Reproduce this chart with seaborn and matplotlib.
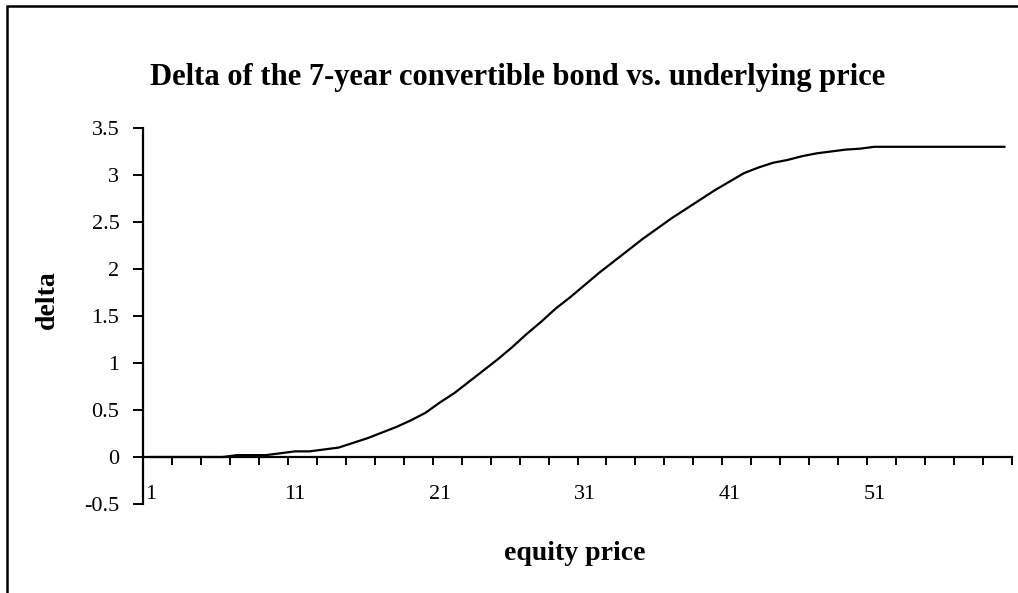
import matplotlib
matplotlib.use("Agg")
import matplotlib.pyplot as plt
import seaborn as sns
import pandas as pd
import numpy as np
from matplotlib.patches import Rectangle

# equity price categories 1..60 and the delta
price = list(range(1, 61))
delta = [0, 0, 0, 0, 0, 0, 0.02, 0.02, 0.02, 0.04,
         0.06, 0.06, 0.08, 0.10, 0.15, 0.20, 0.26, 0.32, 0.39, 0.47,
         0.58, 0.68, 0.80, 0.92, 1.04, 1.17, 1.31, 1.44, 1.58, 1.70,
         1.83, 1.96, 2.08, 2.20, 2.32, 2.43, 2.54, 2.64, 2.74, 2.84,
         2.93, 3.02, 3.08, 3.13, 3.16, 3.20, 3.23, 3.25, 3.27, 3.28,
         3.30, 3.30, 3.30, 3.30, 3.30, 3.30, 3.30, 3.30, 3.30, 3.30]
x_labels = [1, 11, 21, 31, 41, 51]
y_ticks = [-0.5, 0, 0.5, 1, 1.5, 2, 2.5, 3, 3.5]

data = pd.DataFrame({'equity price': price, 'delta': delta})

sns.set_style("white")
plt.rcParams['font.family'] = ['Liberation Serif', 'DejaVu Serif']
plt.rcParams['text.color'] = 'black'
plt.rcParams['xtick.color'] = 'black'
plt.rcParams['ytick.color'] = 'black'

fig = plt.figure(figsize=(10.18, 5.93), dpi=100)
ax = fig.add_axes([143 / 1018, 1 - 504 / 593, 869 / 1018, 376 / 593])

sns.lineplot(data=data, x='equity price', y='delta', ax=ax, color='black', linewidth=1.6)

ax.set_xlim(0.5, 60.5)
ax.set_ylim(-0.5, 3.5)

# excel-like category axis crossing at zero
ax.spines['top'].set_visible(False)
ax.spines['right'].set_visible(False)
ax.spines['bottom'].set_position(('data', 0))
ax.spines['bottom'].set_linewidth(1.6)
ax.spines['left'].set_linewidth(1.6)
ax.spines['bottom'].set_color('black')
ax.spines['left'].set_color('black')

ax.set_xticks(x_labels)
ax.set_xticklabels([str(v) for v in x_labels])
ax.set_xticks(np.arange(0.5, 61, 2), minor=True)
ax.tick_params(axis='x', which='major', length=0, pad=20, labelsize=16)
ax.tick_params(axis='x', which='minor', direction='out', length=6, width=1.4, color='black', bottom=True)

ax.set_yticks(y_ticks)
ax.set_yticklabels(['-0.5', '0', '0.5', '1', '1.5', '2', '2.5', '3', '3.5'])
ax.tick_params(axis='y', which='major', direction='out', length=7, width=1.4, color='black', left=True,
               labelsize=16, pad=10)

ax.set_xlabel('')
ax.set_ylabel('')
fig.text(575 / 1018, 1 - 553 / 593, 'equity price', ha='center', va='center', fontsize=20, fontweight='bold')
fig.text(47 / 1018, 1 - 300 / 593, 'delta', ha='center', va='center', rotation=90, fontsize=20,
         fontweight='bold')
fig.text(518 / 1018, 1 - 78 / 593, 'Delta of the 7-year convertible bond vs. underlying price',
         ha='center', va='center', fontsize=22, fontweight='bold')

# chart frame
fig.patches.append(Rectangle((7 / 1018, -0.1), 1.2, 1.1 - 6 / 593, transform=fig.transFigure,
                             fill=False, edgecolor='black', linewidth=1.8))

fig.savefig('out.png', dpi=100)
